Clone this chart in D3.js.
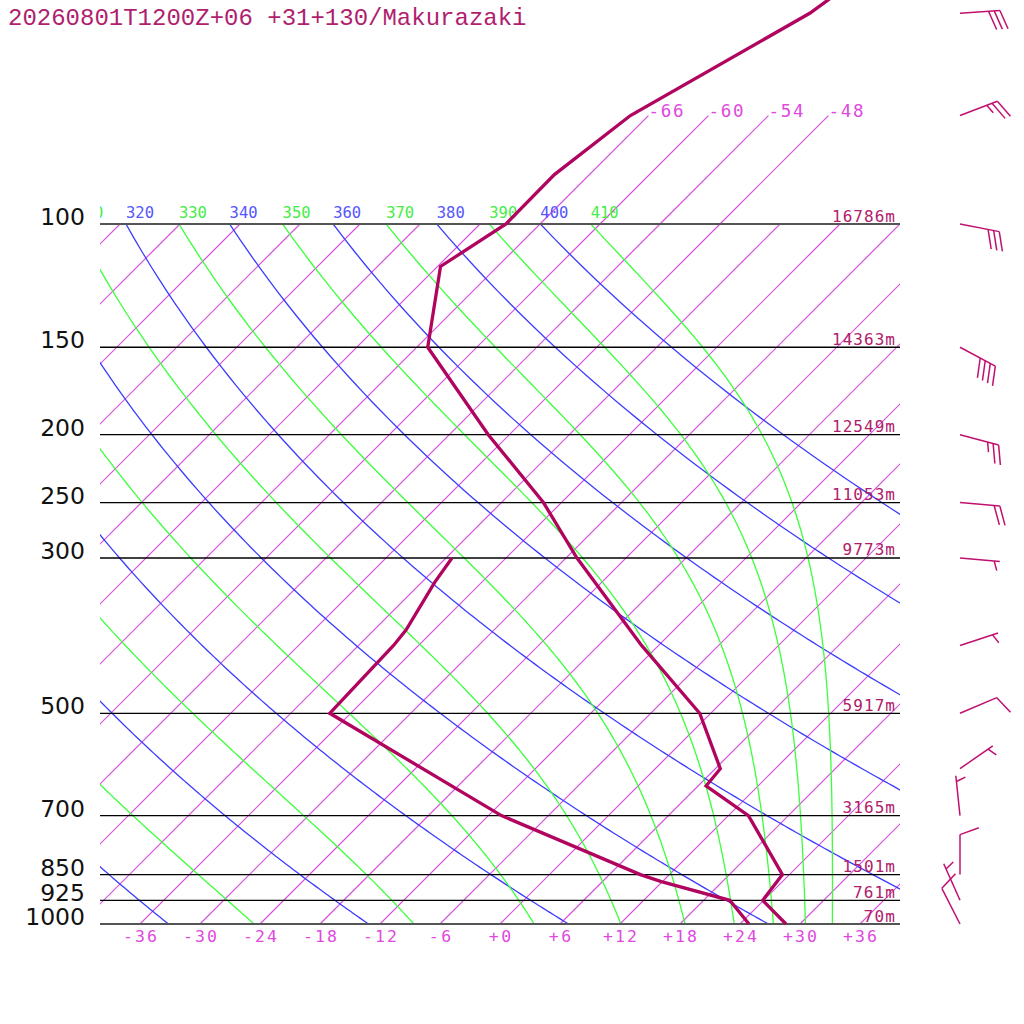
<!DOCTYPE html>
<html><head><meta charset="utf-8">
<script src="https://cdn.jsdelivr.net/npm/d3@7"></script>
<style>body{margin:0;background:#fff}svg{display:block}</style>
</head><body>
<script>
// ---- data ----
const titleText = "20260801T1200Z+06 +31+130/Makurazaki";
const pressureLevels = [100, 150, 200, 250, 300, 500, 700, 850, 925, 1000];
const heightLabels = ["16786m", "14363m", "12549m", "11053m", "9773m", "5917m", "3165m", "1501m", "761m", "70m"];
const isothermTicks = [-36, -30, -24, -18, -12, -6, 0, 6, 12, 18, 24, 30, 36];
const isotherms = [-108, -102, -96, -90, -84, -78, -72, -66, -60, -54, -48, -42, -36, -30, -24, -18, -12, -6, 0, 6, 12, 18, 24, 30, 36];
const upperIsotherms = [-66, -60, -54, -48];
const dryAdiabats = [240, 260, 280, 300, 320, 340, 360, 380, 400];
const moistAdiabats = [250, 270, 290, 310, 330, 350, 370, 390, 410];

const tempP = [1000, 925, 850, 700, 635, 600, 500, 400, 300, 250, 200, 150, 115, 100, 85, 70, 50, 30];
const tempT = [28.6, 23.9, 23.3, 14.0, 6.8, 6.5, -1.1, -13.7, -28.9, -37.8, -50.1, -64.9, -71.7, -69.4, -69.5, -67.8, -60.1, -54.2];
const dewP = [1000, 925, 870, 850, 700, 500, 400, 380, 325, 300];
const dewT = [24.9, 20.6, 11.9, 9.1, -10.7, -38.1, -38.5, -38.8, -40.7, -41.4];

const windP = [50, 70, 100, 150, 200, 250, 300, 400, 500, 600, 700, 850, 925, 1000];
const windDir = [86, 69, 101, 118, 105, 95, 95, 72, 67, 55, 354, 0, 336, 333];
const windSpd = [30, 25, 30, 40, 25, 20, 5, 5, 10, 5, 5, 10, 5, 10];

// ---- layout ----
const W = 1024, H = 1024;
const svg = d3.select("body").append("svg").attr("width", W).attr("height", H);
const y = d3.scaleLog().domain([1000, 100]).range([924, 224]);
const x0 = d3.scaleLinear().domain([-36, 36]).range([140, 860]);
const X = (T, p) => x0(T) + (y(1000) - y(p));

const defs = svg.append("defs");
defs.append("clipPath").attr("id", "plot").append("rect")
  .attr("x", 100).attr("y", 224).attr("width", 800).attr("height", 700);
defs.append("clipPath").attr("id", "lab").append("rect")
  .attr("x", 100).attr("y", 0).attr("width", 924).attr("height", 1024);

const grid = svg.append("g").attr("clip-path", "url(#plot)");
const line = d3.line().x(d => X(d[0], d[1])).y(d => y(d[1]));

// sampling pressures for curves
const samp = [];
for (let p = 1000; p >= 100; p -= 5) samp.push(p);

const ISO = "#d650dc", DRY = "#3c3cff", MOIST = "#3cff3c";

// isotherms
grid.append("g").selectAll("path").data(isotherms).enter().append("path")
  .attr("d", T => line([[T, 1000], [T, 100]]))
  .attr("fill", "none").attr("stroke", ISO).attr("stroke-width", 1.2);
svg.append("g").selectAll("path").data(upperIsotherms).enter().append("path")
  .attr("d", T => line([[T, 100], [T, 70]]))
  .attr("fill", "none").attr("stroke", ISO).attr("stroke-width", 1.2);

// dry adiabats
const dryT = (th, p) => th * Math.pow(p / 1000, 0.2857) - 273.15;
grid.append("g").selectAll("path").data(dryAdiabats).enter().append("path")
  .attr("d", th => line(samp.map(p => [dryT(th, p), p])))
  .attr("fill", "none").attr("stroke", DRY).attr("stroke-width", 1.3);

// moist (pseudo) adiabats via Bolton theta-e
function thetaE(T, p) {
  const Tk = T + 273.15;
  const es = 6.112 * Math.exp(17.67 * T / (T + 243.5));
  const r = 622 * es / (p - es);
  return Tk * Math.pow(1000 / p, 0.2854 * (1 - 0.00028 * r)) *
    Math.exp((3.376 / Tk - 0.00254) * r * (1 + 0.00081 * r));
}
function moistT(te, p) {
  let lo = -160, hi = 40;
  for (let i = 0; i < 60; i++) {
    const mid = (lo + hi) / 2;
    if (thetaE(mid, p) > te) hi = mid; else lo = mid;
  }
  return (lo + hi) / 2;
}
grid.append("g").selectAll("path").data(moistAdiabats).enter().append("path")
  .attr("d", te => line(samp.map(p => [moistT(te, p), p])))
  .attr("fill", "none").attr("stroke", MOIST).attr("stroke-width", 1.3);

// adiabat labels at 100 hPa (only those reaching into the plot)
const labG = svg.append("g").attr("clip-path", "url(#lab)")
  .attr("font-family", "DejaVu Sans Mono, monospace").attr("font-size", 15.5);
const dryLab = dryAdiabats.map(th => ({v: th, x: X(dryT(th, 100), 100)})).filter(d => d.x + 28 > 100);
const moistLab = moistAdiabats.map(te => ({v: te, x: X(moistT(te, 100), 100)})).filter(d => d.x + 28 > 100);
labG.selectAll(".dl").data(dryLab).enter().append("text")
  .attr("x", d => d.x).attr("y", y(100) - 6)
  .attr("fill", "#5555ff").text(d => d.v);
labG.selectAll(".ml").data(moistLab).enter().append("text")
  .attr("x", d => d.x).attr("y", y(100) - 6)
  .attr("fill", "#44ee44").text(d => d.v);

// pressure lines
svg.append("g").selectAll("line").data(pressureLevels).enter().append("line")
  .attr("x1", 100).attr("x2", 900).attr("y1", p => y(p)).attr("y2", p => y(p))
  .attr("stroke", p => (p === 100 || p === 1000) ? "#555" : "#000")
  .attr("stroke-width", p => (p === 100 || p === 1000) ? 2 : 1.3);

// pressure labels
svg.append("g").selectAll("text").data(pressureLevels).enter().append("text")
  .attr("x", 85).attr("y", p => y(p) + 1).attr("text-anchor", "end")
  .attr("font-family", "DejaVu Sans, sans-serif").attr("font-size", 23.5)
  .attr("fill", "#111").text(p => p);

// height labels
svg.append("g").selectAll("text").data(pressureLevels).enter().append("text")
  .attr("x", 895).attr("y", p => y(p) - 2.5).attr("text-anchor", "end")
  .attr("font-family", "DejaVu Sans Mono, monospace").attr("font-size", 16)
  .attr("textLength", (p, i) => heightLabels[i].length * 10.5).attr("lengthAdjust", "spacing")
  .attr("fill", "#b0206a").text((p, i) => heightLabels[i]);

// isotherm labels bottom
const fmt = T => (T < 0 ? "-" : "+") + Math.abs(T);
svg.append("g").selectAll("text").data(isothermTicks).enter().append("text")
  .attr("x", T => x0(T)).attr("y", 942).attr("text-anchor", "middle")
  .attr("font-family", "DejaVu Sans Mono, monospace").attr("font-size", 16.5)
  .attr("textLength", T => fmt(T).length * 11.5 - 0.5).attr("lengthAdjust", "spacing")
  .attr("fill", "#e048e0").text(fmt);
// isotherm labels top
svg.append("g").selectAll("text").data(upperIsotherms).enter().append("text")
  .attr("x", T => X(T, 70)).attr("y", y(70) + 1)
  .attr("font-family", "DejaVu Sans Mono, monospace").attr("font-size", 17.5)
  .attr("textLength", 35).attr("lengthAdjust", "spacing")
  .attr("fill", "#e048e0").text(fmt);

// profiles
const prof = d3.line().x(d => X(d[1], d[0])).y(d => y(d[0]));
svg.append("path").attr("d", prof(tempP.map((p, i) => [p, tempT[i]])))
  .attr("fill", "none").attr("stroke", "#b0045f").attr("stroke-width", 3.3);
svg.append("path").attr("d", prof(dewP.map((p, i) => [p, dewT[i]])))
  .attr("fill", "none").attr("stroke", "#b0045f").attr("stroke-width", 3.3);

// wind barbs
const bg = svg.append("g").attr("stroke", "#c0106f").attr("stroke-width", 1.5)
  .attr("fill", "none").attr("stroke-linecap", "butt");
const rad = Math.PI / 180, staff = 40, full = 20, half = 10, gap = 5.7, fa = 70 * rad;
windP.forEach((p, i) => {
  const d = windDir[i] * rad;
  const ux = Math.sin(d), uy = -Math.cos(d);
  const fx = ux * Math.cos(fa) - uy * Math.sin(fa), fy = ux * Math.sin(fa) + uy * Math.cos(fa);
  const bx = 960, by = y(p);
  const tx = bx + staff * ux, ty = by + staff * uy;
  bg.append("line").attr("x1", bx).attr("y1", by).attr("x2", tx).attr("y2", ty);
  const s = windSpd[i];
  const n10 = Math.floor(s / 10), n5 = Math.round((s % 10) / 5);
  let k = 0;
  for (let j = 0; j < n10; j++, k++) {
    const px = tx - k * gap * ux, py = ty - k * gap * uy;
    bg.append("line").attr("x1", px).attr("y1", py).attr("x2", px + full * fx).attr("y2", py + full * fy);
  }
  if (n5) {
    if (k === 0) k = 1;
    const px = tx - k * gap * ux, py = ty - k * gap * uy;
    bg.append("line").attr("x1", px).attr("y1", py).attr("x2", px + half * fx).attr("y2", py + half * fy);
  }
});

// title
svg.append("text").attr("x", 8).attr("y", 25)
  .attr("font-family", "Liberation Mono, Courier New, monospace").attr("font-size", 24)
  .attr("fill", "#b01e6e").text(titleText);
</script>
</body></html>
